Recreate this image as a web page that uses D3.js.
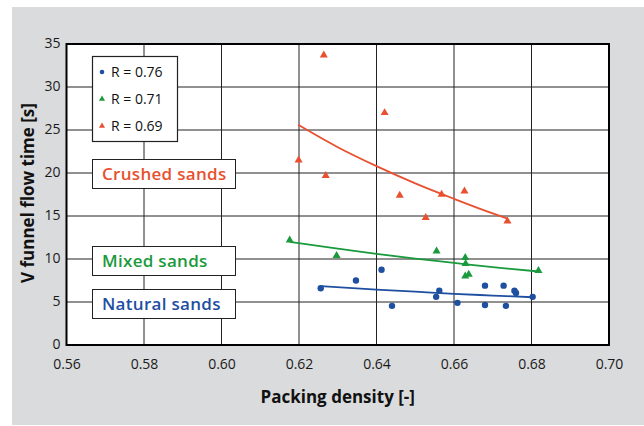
<!DOCTYPE html>
<html><head><meta charset="utf-8">
<script src="https://cdn.jsdelivr.net/npm/d3@7"></script>
<style>
html,body{margin:0;padding:0;background:#fff;}
text{font-family:"Open Sans","Noto Sans",sans-serif;}
</style></head>
<body><svg id="c" width="644" height="426"></svg>
<script>
// ---- data ----
const xTicks = [0.56,0.58,0.60,0.62,0.64,0.66,0.68,0.70];
const yTicks = [0,5,10,15,20,25,30,35];
const crushedX = [0.6264,0.6199,0.6269,0.6421,0.6460,0.6527,0.6568,0.6627,0.6738];
const crushedY = [33.7,21.5,19.7,27.0,17.4,14.8,17.5,17.9,14.4];
const mixedX = [0.6176,0.6297,0.6555,0.6629,0.6630,0.6629,0.6638,0.6818];
const mixedY = [12.2,10.4,10.9,10.15,9.45,8.0,8.2,8.65];
const naturalX = [0.6256,0.6347,0.6413,0.6440,0.6562,0.6554,0.6609,0.6680,0.6680,0.6728,0.6734,0.6756,0.6760,0.6803];
const naturalY = [6.6,7.5,8.75,4.55,6.3,5.6,4.9,6.9,4.65,6.9,4.55,6.3,6.05,5.6];
// trend lines
const crushedTrendX = [0.6198,0.6300,0.6400,0.6500,0.6600,0.6700,0.6738];
const crushedTrendY = [25.6,23.0,20.8,18.8,17.0,15.3,14.7];
const mixedTrendX = [0.6176,0.6300,0.6400,0.6500,0.6600,0.6700,0.6818];
const mixedTrendY = [12.0,11.2,10.6,10.05,9.55,9.05,8.55];
const naturalTrendX = [0.6256,0.6400,0.6500,0.6600,0.6700,0.6803];
const naturalTrendY = [6.85,6.45,6.2,5.95,5.75,5.55];
const legendLabels = ["R = 0.76","R = 0.71","R = 0.69"];
const groupLabels = ["Crushed sands","Mixed sands","Natural sands"];

const red="#e8502f", green="#1a9a3c", blue="#1e4fa0";

const svg = d3.select("#c");
svg.append("rect").attr("x",12).attr("y",7).attr("width",632).attr("height",418).attr("fill","#dadbdd");

const x = d3.scaleLinear().domain([0.56,0.70]).range([66.5,609]);
const y = d3.scaleLinear().domain([0,35]).range([345,44]);

svg.append("rect").attr("x",x(0.56)).attr("y",y(35)).attr("width",x(0.70)-x(0.56)).attr("height",y(0)-y(35)).attr("fill","#fff");

// grid
const g = svg.append("g");
g.selectAll(".vg").data(xTicks.slice(1,-1)).join("line")
  .attr("x1",d=>x(d)).attr("x2",d=>x(d)).attr("y1",y(0)).attr("y2",y(35))
  .attr("stroke","#222").attr("stroke-width",1);
g.selectAll(".hg").data(yTicks.slice(1,-1)).join("line")
  .attr("y1",d=>y(d)).attr("y2",d=>y(d)).attr("x1",x(0.56)).attr("x2",x(0.70))
  .attr("stroke","#222").attr("stroke-width",1);

// axes
const xa = svg.append("g").attr("transform",`translate(0,${y(0)})`)
  .call(d3.axisBottom(x).tickValues(xTicks).tickFormat(d3.format(".2f")).tickSize(0).tickPadding(14));
const ya = svg.append("g").attr("transform",`translate(${x(0.56)},0)`)
  .call(d3.axisLeft(y).tickValues(yTicks).tickSize(0).tickPadding(6));
[xa,ya].forEach(a=>{a.select(".domain").remove();a.selectAll("text").attr("font-size",14).attr("fill","#1a1a1a").attr("font-family","'Open Sans',sans-serif");});
ya.selectAll("text").attr("dy","0.28em");

// frame
svg.append("rect").attr("x",x(0.56)).attr("y",y(35)).attr("width",x(0.70)-x(0.56)).attr("height",y(0)-y(35))
  .attr("fill","none").attr("stroke","#000").attr("stroke-width",2);

// titles
svg.append("text").attr("x",(x(0.56)+x(0.70))/2).attr("y",403).attr("text-anchor","middle")
  .attr("font-size",17).attr("font-weight",700).attr("fill","#111").text("Packing density [-]");
svg.append("text").attr("transform","translate(34,193) rotate(-90)").attr("text-anchor","middle")
  .attr("font-size",17).attr("font-weight",700).attr("fill","#111").text("V funnel flow time [s]");

// trend lines
const line = d3.line().x(d=>x(d[0])).y(d=>y(d[1])).curve(d3.curveMonotoneX);
const trends = [[crushedTrendX,crushedTrendY,red],[mixedTrendX,mixedTrendY,green],[naturalTrendX,naturalTrendY,blue]];
trends.forEach(([xs,ys,c])=>{
  svg.append("path").datum(xs.map((v,i)=>[v,ys[i]])).attr("d",line)
    .attr("fill","none").attr("stroke",c).attr("stroke-width",1.8);
});

// markers
const tri = d3.symbol().type(d3.symbolTriangle).size(28);
svg.append("g").selectAll("path").data(crushedX.map((v,i)=>[v,crushedY[i]])).join("path")
  .attr("d",tri).attr("transform",d=>`translate(${x(d[0])},${y(d[1])})`).attr("fill",red);
svg.append("g").selectAll("path").data(mixedX.map((v,i)=>[v,mixedY[i]])).join("path")
  .attr("d",tri).attr("transform",d=>`translate(${x(d[0])},${y(d[1])})`).attr("fill",green);
svg.append("g").selectAll("circle").data(naturalX.map((v,i)=>[v,naturalY[i]])).join("circle")
  .attr("cx",d=>x(d[0])).attr("cy",d=>y(d[1])).attr("r",3.2).attr("fill",blue);

// legend
const lg = svg.append("g");
lg.append("rect").attr("x",92.5).attr("y",56.5).attr("width",85).attr("height",85).attr("fill","#fff").attr("stroke","#222").attr("stroke-width",1.2);
const legColors=[blue,green,red];
legendLabels.forEach((t,i)=>{
  const yy = 72 + i*27;
  if(i===0) lg.append("circle").attr("cx",102).attr("cy",yy).attr("r",2.3).attr("fill",legColors[i]);
  else lg.append("path").attr("d",d3.symbol().type(d3.symbolTriangle).size(16)).attr("transform",`translate(102,${yy})`).attr("fill",legColors[i]);
  lg.append("text").attr("x",111).attr("y",yy+5).attr("font-size",14).attr("fill","#111").text(t);
});

// group label boxes
const boxY=[159,246,289], boxC=[red,green,blue];
groupLabels.forEach((t,i)=>{
  svg.append("rect").attr("x",92.5).attr("y",boxY[i]+0.5).attr("width",143).attr("height",29)
    .attr("fill","#fff").attr("stroke","#222").attr("stroke-width",1);
  svg.append("text").attr("x",102).attr("y",boxY[i]+21).attr("font-size",17).attr("font-weight",600)
    .attr("fill",boxC[i]).attr("letter-spacing",0.3).text(t);
});
</script></body></html>
